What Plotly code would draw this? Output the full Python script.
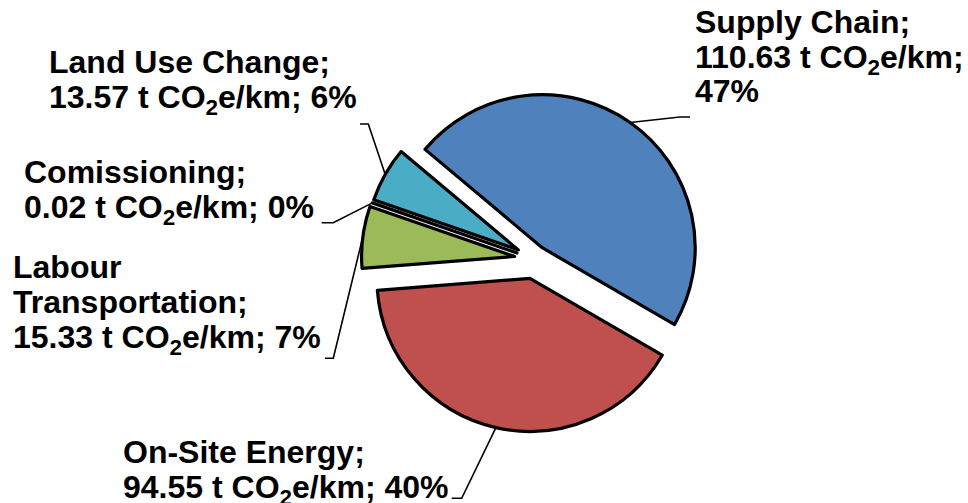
import math
import plotly.graph_objects as go

# Emission sources per km, in drawing order (clockwise from the Supply Chain slice)
categories = ["Supply Chain", "On-Site Energy", "Labour Transportation", "Comissioning", "Land Use Change"]
values = [110.63, 94.55, 15.33, 0.02, 13.57]
colors = ["#4F81BD", "#C0504D", "#9BBB59", "#8064A2", "#4BACC6"]
pulls = [0.09, 0.13, 0.13, 0.12, 0.12]

W, H = 968, 503
CX, CY, R = 534.3, 259.0, 153.0      # pie centre and radius in pixels
ROTATION = -50                        # start angle of the first slice (deg, clockwise from 12 o'clock)
FONT = "Liberation Sans, Arial, sans-serif"
FS = 32

half = R * (1 + max(pulls))
dom_x = [(CX - half) / W, (CX + half) / W]
dom_y = [1 - (CY + half) / H, 1 - (CY - half) / H]

total = sum(values)
pcts = [round(v / total * 100) for v in values]

fig = go.Figure(go.Pie(
    labels=categories,
    values=values,
    sort=False,
    direction="clockwise",
    rotation=ROTATION,
    pull=pulls,
    marker=dict(colors=colors, line=dict(color="black", width=3.2)),
    textinfo="none",
    hoverinfo="label+value+percent",
    showlegend=False,
    domain=dict(x=dom_x, y=dom_y),
))

co2 = "t CO<sub>2</sub>e/km"
# label line layout: how each label wraps, its left edge, line baselines and leader elbow/end
label_lines = [
    ["Supply Chain;", f"{values[0]:.2f} {co2};", f"{pcts[0]}%"],
    ["On-Site Energy;", f"{values[1]:.2f} {co2}; {pcts[1]}%"],
    ["Labour", "Transportation;", f"{values[2]:.2f} {co2}; {pcts[2]}%"],
    ["Comissioning;", f"{values[3]:.2f} {co2}; {pcts[3]}%"],
    ["Land Use Change;", f"{values[4]:.2f} {co2}; {pcts[4]}%"],
]
label_left = [695, 123.3, 13.3, 24, 49.3]
label_base = [[33.3, 68.3, 101.7], [463.3, 498.3], [278.3, 313.3, 348.3], [183.3, 218.3], [73.3, 108.3]]
leader_elbow = [(680, 117), (461.7, 498.3), (333.3, 358.3), (333.3, 222.7), (368.3, 124)]
leader_end = [(690, 117), (451.7, 498.3), (325, 358.3), (321.7, 222.7), (360, 124)]

def px(x):
    return x / W

def py(y):
    return 1 - y / H

ascent = 0.905 * FS + 2
annotations = []
for lines, left, bases in zip(label_lines, label_left, label_base):
    for txt, b in zip(lines, bases):
        annotations.append(dict(
            x=px(left - 2), y=py(b - ascent), xref="paper", yref="paper",
            xanchor="left", yanchor="top", showarrow=False, align="left",
            text=f"<b>{txt}</b>",
            font=dict(family=FONT, size=FS, color="black"),
        ))

shapes = []
cum = 0.0
for i, v in enumerate(values):
    mid = math.radians(ROTATION + (cum + v / 2) / total * 360)
    cum += v
    d = R * (1 + pulls[i])
    ax, ay = CX + d * math.sin(mid), CY - d * math.cos(mid)
    ex, ey = leader_elbow[i]
    tx, ty = leader_end[i]
    path = f"M {px(ax)},{py(ay)} L {px(ex)},{py(ey)} L {px(tx)},{py(ty)}"
    shapes.append(dict(type="path", path=path, xref="paper", yref="paper",
                       line=dict(color="black", width=1.6)))

fig.update_layout(
    width=W, height=H,
    margin=dict(l=0, r=0, t=0, b=0),
    paper_bgcolor="white", plot_bgcolor="white",
    annotations=annotations,
    shapes=shapes,
)

fig.write_html("out.html")
